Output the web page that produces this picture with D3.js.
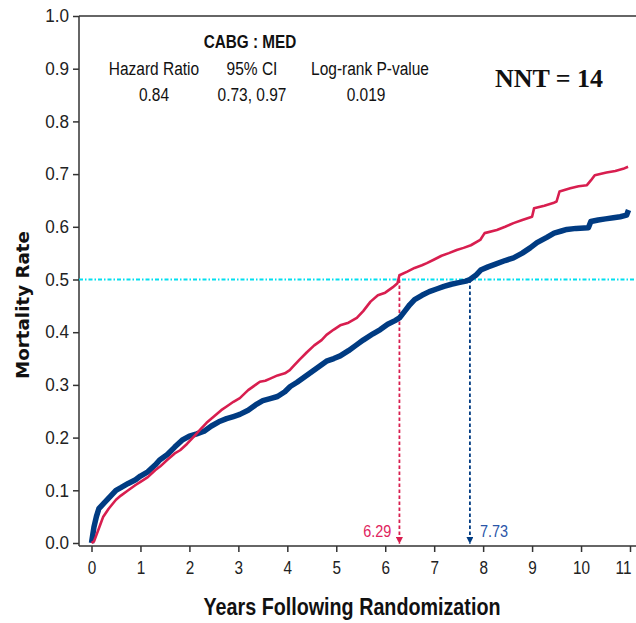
<!DOCTYPE html>
<html>
<head>
<meta charset="utf-8">
<script src="https://cdn.jsdelivr.net/npm/d3@7"></script>
<style>
  body { margin: 0; background: #fff; }
  svg text { font-family: "Liberation Sans", Arial, sans-serif; }
</style>
</head>
<body>
<div id="container"></div>
<script>
// years / mortality
var medYears = [0,0.05,0.1,0.18,0.24,0.35,0.5,0.6,0.75,0.9,1.0,1.15,1.3,1.4,1.55,1.7,1.81,1.95,2.1,2.22,2.35,2.5,2.65,2.76,2.9,3.03,3.2,3.35,3.44,3.55,3.65,3.8,3.95,4.05,4.12,4.25,4.4,4.55,4.7,4.8,4.95,5.08,5.25,5.42,5.55,5.7,5.85,6.0,6.15,6.25,6.29,6.45,6.6,6.75,6.85,7.0,7.15,7.3,7.46,7.6,7.75,7.94,8.03,8.28,8.45,8.62,8.8,9.0,9.04,9.25,9.43,9.5,9.56,9.78,9.95,10.12,10.2,10.28,10.52,10.7,10.86,10.96];
var medRate = [0,0.003,0.015,0.035,0.05,0.065,0.082,0.09,0.1,0.11,0.116,0.125,0.138,0.145,0.158,0.17,0.176,0.188,0.203,0.215,0.228,0.24,0.252,0.259,0.268,0.275,0.29,0.3,0.306,0.308,0.312,0.318,0.322,0.328,0.335,0.348,0.362,0.375,0.385,0.395,0.405,0.413,0.418,0.427,0.44,0.458,0.47,0.475,0.485,0.493,0.508,0.515,0.522,0.527,0.531,0.538,0.545,0.55,0.556,0.56,0.565,0.575,0.588,0.594,0.6,0.607,0.613,0.619,0.635,0.64,0.645,0.648,0.667,0.673,0.677,0.679,0.688,0.698,0.703,0.706,0.71,0.714];

var cabgYears = [0,0.05,0.1,0.15,0.25,0.38,0.5,0.6,0.75,0.9,1.0,1.15,1.3,1.4,1.55,1.7,1.85,2.0,2.15,2.3,2.45,2.6,2.76,2.9,3.03,3.2,3.35,3.5,3.65,3.8,3.95,4.06,4.2,4.35,4.5,4.65,4.8,4.95,5.08,5.25,5.4,5.55,5.75,5.9,6.05,6.2,6.29,6.4,6.5,6.6,6.75,6.9,7.05,7.2,7.35,7.5,7.65,7.73,7.85,7.95,8.1,8.28,8.45,8.62,8.8,8.96,9.1,9.3,9.45,9.6,9.71,9.9,10.15,10.2,10.35,10.5,10.66,10.8,10.93,10.97];
var cabgRate = [0,0.03,0.05,0.065,0.075,0.088,0.1,0.105,0.113,0.12,0.127,0.135,0.148,0.158,0.168,0.182,0.195,0.203,0.207,0.212,0.222,0.23,0.236,0.24,0.244,0.252,0.262,0.27,0.274,0.278,0.287,0.297,0.305,0.315,0.325,0.335,0.345,0.35,0.355,0.365,0.375,0.385,0.397,0.405,0.415,0.422,0.427,0.44,0.452,0.462,0.47,0.477,0.482,0.487,0.491,0.494,0.497,0.5,0.508,0.518,0.524,0.53,0.536,0.541,0.55,0.56,0.57,0.58,0.588,0.592,0.595,0.597,0.598,0.61,0.613,0.615,0.617,0.619,0.622,0.632];

var xTicks = [0,1,2,3,4,5,6,7,8,9,10,11];
var yTicks = [0,0.1,0.2,0.3,0.4,0.5,0.6,0.7,0.8,0.9,1.0];
var medianLevel = 0.5;
var medMedian = 6.29, cabgMedian = 7.73;

var statHeads = ["Hazard Ratio", "95% CI", "Log-rank P-value"];
var statVals = ["0.84", "0.73, 0.97", "0.019"];

const W = 636, H = 623;
var frame = {left: 79, top: 16, right: 636, bottom: 546};

var redCol = "#d81e4f", blueCol = "#003b82";

var x = d3.scaleLinear().domain([0, 11]).range([91.5, 630]);
var y = d3.scaleLinear().domain([0, 1]).range([543, 16]);

var svg = d3.select("#container").append("svg")
	.attr("width", W)
	.attr("height", H);

// squeeze text horizontally to look like the narrow face of the original
function condense(sel, k)
{
	sel.each(function() {
		var w = this.getComputedTextLength();
		d3.select(this)
			.attr("textLength", w * k)
			.attr("lengthAdjust", "spacingAndGlyphs");
	});
}

var defs = svg.append("defs");
function arrowHead(id, color)
{
	defs.append("marker")
		.attr("id", id)
		.attr("viewBox", "0 0 10 10")
		.attr("refX", 5).attr("refY", 10)
		.attr("markerWidth", 7).attr("markerHeight", 12)
		.attr("markerUnits", "userSpaceOnUse")
		.attr("orient", "0")
		.append("path")
		.attr("d", "M0,0 L10,0 L5,10 Z")
		.attr("fill", color);
}
arrowHead("arrRed", redCol);
arrowHead("arrBlue", blueCol);

// frame lines
svg.append("line")
	.attr("x1", frame.left).attr("x2", frame.right)
	.attr("y1", frame.top).attr("y2", frame.top)
	.attr("stroke", "#333").attr("stroke-width", 1.5);
svg.append("line")
	.attr("x1", frame.left).attr("x2", frame.left)
	.attr("y1", frame.top).attr("y2", frame.bottom)
	.attr("stroke", "#333").attr("stroke-width", 1.5);
svg.append("line")
	.attr("x1", frame.left).attr("x2", frame.right)
	.attr("y1", frame.bottom).attr("y2", frame.bottom)
	.attr("stroke", "#333").attr("stroke-width", 1.5);

// axes
var xAxis = d3.axisBottom(x)
	.tickValues(xTicks)
	.tickFormat(d3.format("d"))
	.tickSize(6)
	.tickPadding(9);

var gx = svg.append("g")
	.attr("transform", "translate(0," + frame.bottom + ")")
	.call(xAxis);
gx.select(".domain").remove();
gx.selectAll("line").attr("stroke", "#333").attr("stroke-width", 1.5);
gx.selectAll("text")
	.attr("fill", "#222")
	.style("font-size", "18px")
	.call(condense, 0.85);
// last label sits at the window edge: keep it inside
gx.selectAll("text")
	.filter(d => d == 11)
	.attr("text-anchor", "end")
	.attr("x", 1);

var yAxis = d3.axisLeft(y)
	.tickValues(yTicks)
	.tickFormat(d3.format(".1f"))
	.tickSize(6)
	.tickPadding(4);

var gy = svg.append("g")
	.attr("transform", "translate(" + frame.left + ",0)")
	.call(yAxis);
gy.select(".domain").remove();
gy.selectAll("line").attr("stroke", "#333").attr("stroke-width", 1.5);
gy.selectAll("text")
	.attr("fill", "#222")
	.style("font-size", "18px")
	.call(condense, 0.95);

// axis titles
svg.append("text")
	.attr("transform", "translate(29,305) rotate(-90)")
	.attr("text-anchor", "middle")
	.style("font-family", "'DejaVu Sans', sans-serif")
	.style("font-weight", "bold")
	.style("font-size", "17px")
	.attr("textLength", 148)
	.attr("lengthAdjust", "spacingAndGlyphs")
	.attr("fill", "#111")
	.text("Mortality Rate");

svg.append("text")
	.attr("x", 352).attr("y", 615)
	.attr("text-anchor", "middle")
	.style("font-weight", "bold")
	.style("font-size", "23px")
	.attr("textLength", 297)
	.attr("lengthAdjust", "spacingAndGlyphs")
	.attr("fill", "#111")
	.text("Years Following Randomization");

// 50% reference line
svg.append("line")
	.attr("x1", frame.left).attr("x2", frame.right)
	.attr("y1", y(medianLevel)).attr("y2", y(medianLevel))
	.attr("stroke", "#00e0f0")
	.attr("stroke-width", 1.8)
	.attr("stroke-dasharray", "4,2,1.5,2");

// curves
var line = d3.line()
	.x(d => x(d[0]))
	.y(d => y(d[1]))
	.curve(d3.curveLinear);

var medData = d3.zip(medYears, medRate);
var cabgData = d3.zip(cabgYears, cabgRate);

// median drop lines
function dropLine(t, color, marker)
{
	svg.append("line")
		.attr("x1", x(t)).attr("x2", x(t))
		.attr("y1", y(medianLevel)).attr("y2", y(0) + 1)
		.attr("stroke", color)
		.attr("stroke-width", 1.8)
		.attr("stroke-dasharray", "3.5,2.5")
		.attr("marker-end", "url(#" + marker + ")");
}
dropLine(medMedian, redCol, "arrRed");
dropLine(cabgMedian, blueCol, "arrBlue");

svg.append("path")
	.attr("d", line(cabgData))
	.attr("fill", "none")
	.attr("stroke", blueCol)
	.attr("stroke-width", 5.5)
	.attr("stroke-linejoin", "round");

svg.append("path")
	.attr("d", line(medData))
	.attr("fill", "none")
	.attr("stroke", redCol)
	.attr("stroke-width", 2.6)
	.attr("stroke-linejoin", "round");

svg.append("text")
	.attr("x", x(medMedian) - 8).attr("y", 537)
	.attr("text-anchor", "end")
	.attr("fill", "#e0245e")
	.style("font-size", "17px")
	.text(d3.format(".2f")(medMedian))
	.call(condense, 0.85);

svg.append("text")
	.attr("x", x(cabgMedian) + 10).attr("y", 537)
	.attr("text-anchor", "start")
	.attr("fill", "#2a55a8")
	.style("font-size", "17px")
	.text(d3.format(".2f")(cabgMedian))
	.call(condense, 0.85);

// stats block
svg.append("text")
	.attr("x", 250).attr("y", 48)
	.attr("text-anchor", "middle")
	.style("font-weight", "bold")
	.style("font-size", "18px")
	.attr("fill", "#111")
	.text("CABG : MED")
	.call(condense, 0.85);

var statX = [154, 252, 370];
statHeads.forEach(function(h, i) {
	svg.append("text")
		.attr("x", statX[i]).attr("y", 75)
		.attr("text-anchor", "middle")
		.style("font-size", "18px")
		.attr("fill", "#111")
		.text(h)
		.call(condense, 0.86);
	svg.append("text")
		.attr("x", statX[i] - (i == 2 ? 4 : 0)).attr("y", 101)
		.attr("text-anchor", "middle")
		.style("font-size", "18px")
		.attr("fill", "#111")
		.text(statVals[i])
		.call(condense, 0.86);
});

svg.append("text")
	.attr("x", 549).attr("y", 87)
	.attr("text-anchor", "middle")
	.style("font-family", "'Liberation Serif', serif")
	.style("font-weight", "bold")
	.style("font-size", "26px")
	.attr("fill", "#111")
	.text("NNT = 14");
</script>
</body>
</html>
